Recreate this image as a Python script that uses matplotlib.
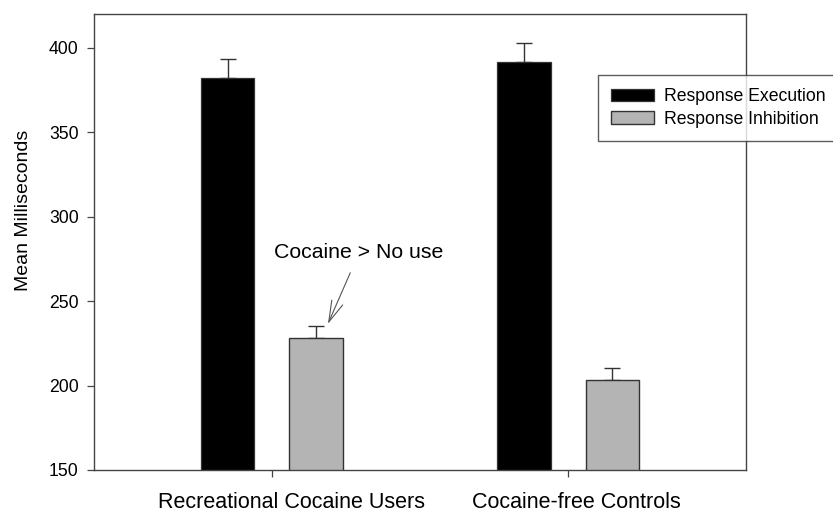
import matplotlib
matplotlib.use("Agg")
import matplotlib.pyplot as plt
import matplotlib.transforms as mtransforms
import numpy as np

plt.rcParams['font.family'] = ['Liberation Sans', 'DejaVu Sans']

groups = ["Recreational Cocaine Users", "Cocaine-free Controls"]
series_names = ["Response Execution", "Response Inhibition"]
execution = [382, 391.5]
execution_err = [11.5, 11.3]
inhibition = [228, 203]
inhibition_err = [7, 7.2]
yticks = [150, 200, 250, 300, 350, 400]

fig = plt.figure(figsize=(8.33, 5.11), dpi=100)
ax = fig.add_axes([94/833, 1-470/511, (746-94)/833, (470-14)/511])

x = np.arange(len(groups))
w = 0.182
off = 0.15
edge = '#333333'
ax.bar(x - off, execution, w, color='black', edgecolor=edge, linewidth=0.9,
       label=series_names[0], zorder=2)
ax.bar(x + off, inhibition, w, color='#b4b4b4', edgecolor=edge, linewidth=1.0,
       label=series_names[1], zorder=2)
ax.errorbar(x - off, execution, yerr=[np.zeros(2), execution_err], fmt='none',
            ecolor=edge, elinewidth=1.0, capsize=5.5, capthick=1.0, zorder=1)
ax.errorbar(x + off, inhibition, yerr=[np.zeros(2), inhibition_err], fmt='none',
            ecolor=edge, elinewidth=1.0, capsize=5.5, capthick=1.0, zorder=1)

ax.set_xlim(-0.601, 1.601)
ax.set_ylim(150, 420)
ax.set_yticks(yticks)
ax.set_yticklabels([str(v) for v in yticks], fontsize=12.7)
ax.set_xticks(x)
ax.set_xticklabels(groups, fontsize=15.5)
ax.tick_params(axis='y', direction='out', length=5, width=0.9, color='#444444', pad=6)
ax.tick_params(axis='x', direction='out', length=5, width=0.9, color='#444444', pad=10.5)
# the reference's category labels sit a little right of their ticks
for lab, dx in zip(ax.get_xticklabels(), [20, 8]):
    lab.set_transform(lab.get_transform() +
                      mtransforms.ScaledTranslation(dx / 100, 0, fig.dpi_scale_trans))
for s in ax.spines.values():
    s.set_color('#444444')
    s.set_linewidth(1.0)
ax.set_ylabel("Mean Milliseconds", fontsize=14)
ax.yaxis.set_label_coords(-0.095, 0.57)

ax.annotate("Cocaine > No use", xy=(0.189, 236.5), xytext=(0.294, 278.6),
            textcoords='data', ha='center', va='center', fontsize=15.3,
            arrowprops=dict(arrowstyle='->,head_length=1.0,head_width=0.28',
                            color='#555555', lw=0.8, shrinkA=6, shrinkB=0))

leg = fig.legend(loc='upper left', bbox_to_anchor=(598/833, 1-75/511),
                 fontsize=12.7, frameon=True, fancybox=False, edgecolor='#333333',
                 handlelength=2.4, handleheight=0.7, handletextpad=0.6,
                 borderpad=0.75, labelspacing=0.3, borderaxespad=0)
leg.get_frame().set_linewidth(1.0)

fig.savefig("out.png", dpi=100)
